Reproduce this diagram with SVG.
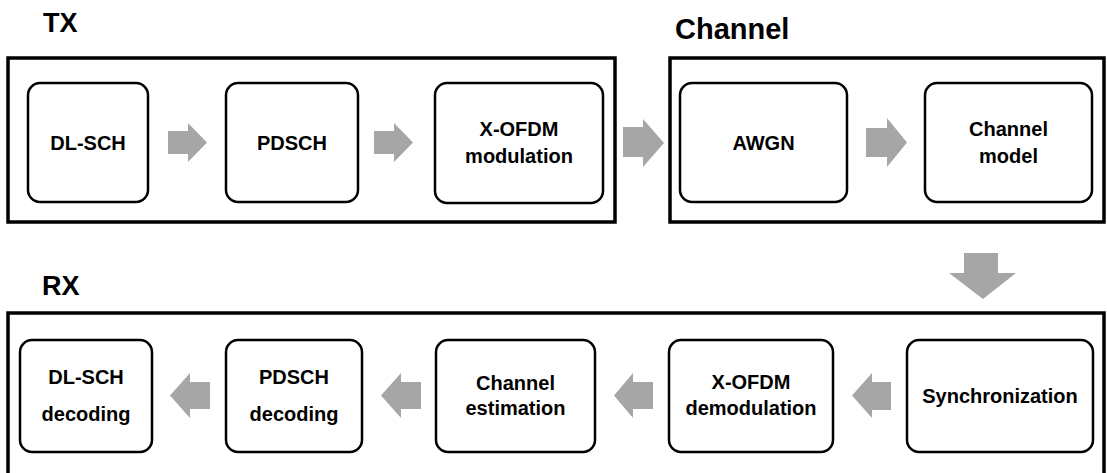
<svg xmlns="http://www.w3.org/2000/svg" width="1107" height="473" viewBox="0 0 1107 473">
<style>
.title{font-family:"Liberation Sans",Arial,sans-serif;font-weight:bold;font-size:27px;fill:#000}
.frame{fill:none;stroke:#000;stroke-width:3.5}
.node rect{fill:#fff;stroke:#000;stroke-width:2.5}
.node text{font-family:"Liberation Sans",Arial,sans-serif;font-weight:bold;font-size:20px;fill:#000;text-anchor:middle}
.arr{fill:#a6a6a6;stroke:none}
</style>
<rect width="1107" height="473" fill="#fff"/>
<text class="title" x="43" y="32">TX</text>
<text class="title" x="675" y="39" style="font-size:29px">Channel</text>
<text class="title" x="42" y="295">RX</text>
<g id="frames">
<rect class="frame" x="8" y="58" width="607" height="164"/>
<rect class="frame" x="670" y="58" width="434" height="164"/>
<rect class="frame" x="8" y="313" width="1096" height="180"/>
</g>
<g id="tx-dlsch" class="node"><rect x="28" y="83" width="120" height="119" rx="12"/><text x="88" y="150">DL-SCH</text></g>
<g id="tx-pdsch" class="node"><rect x="226" y="83" width="132" height="119" rx="12"/><text x="292" y="150">PDSCH</text></g>
<g id="tx-xofdm" class="node"><rect x="435" y="83" width="168" height="120" rx="12"/><text x="519" y="136">X-OFDM</text><text x="519" y="163">modulation</text></g>
<g id="ch-awgn" class="node"><rect x="680" y="83" width="167" height="119" rx="12"/><text x="763.5" y="150">AWGN</text></g>
<g id="ch-model" class="node"><rect x="925" y="83" width="167" height="119" rx="12"/><text x="1008.5" y="136">Channel</text><text x="1008.5" y="163">model</text></g>
<g id="rx-dlsch" class="node"><rect x="20" y="340" width="132" height="112" rx="12"/><text x="86" y="384">DL-SCH</text><text x="86" y="421">decoding</text></g>
<g id="rx-pdsch" class="node"><rect x="226" y="340" width="136" height="112" rx="12"/><text x="294" y="384">PDSCH</text><text x="294" y="421">decoding</text></g>
<g id="rx-chest" class="node"><rect x="436" y="340" width="159" height="112" rx="12"/><text x="515.5" y="390">Channel</text><text x="515.5" y="415">estimation</text></g>
<g id="rx-xofdm" class="node"><rect x="669" y="340" width="164" height="112" rx="12"/><text x="751" y="389">X-OFDM</text><text x="751" y="415">demodulation</text></g>
<g id="rx-sync" class="node"><rect x="907" y="340" width="186" height="112" rx="12"/><text x="1000" y="403">Synchronization</text></g>
<g id="connectors">
<polygon class="arr" points="168,131 188,131 188,123 207,142.5 188,162 188,154 168,154"/>
<polygon class="arr" points="374,131 394,131 394,123 413,142.5 394,162 394,154 374,154"/>
<polygon class="arr" points="623,127 643,127 643,119 664,143 643,167 643,157 623,157"/>
<polygon class="arr" points="866,128 887,128 887,118 907,142.5 887,167 887,157 866,157"/>
<polygon class="arr" points="964,253 998,253 998,273 1016,273 983,299 949,273 964,273"/>
<polygon class="arr" points="210,382 190,382 190,373 170,395.5 190,418 190,409 210,409"/>
<polygon class="arr" points="421,382 401,382 401,373 381,395.5 401,418 401,409 421,409"/>
<polygon class="arr" points="653,382 633,382 633,373 614,395.5 633,418 633,409 653,409"/>
<polygon class="arr" points="891,382 872,382 872,373 852,395.5 872,418 872,410 891,410"/>
</g>
</svg>
